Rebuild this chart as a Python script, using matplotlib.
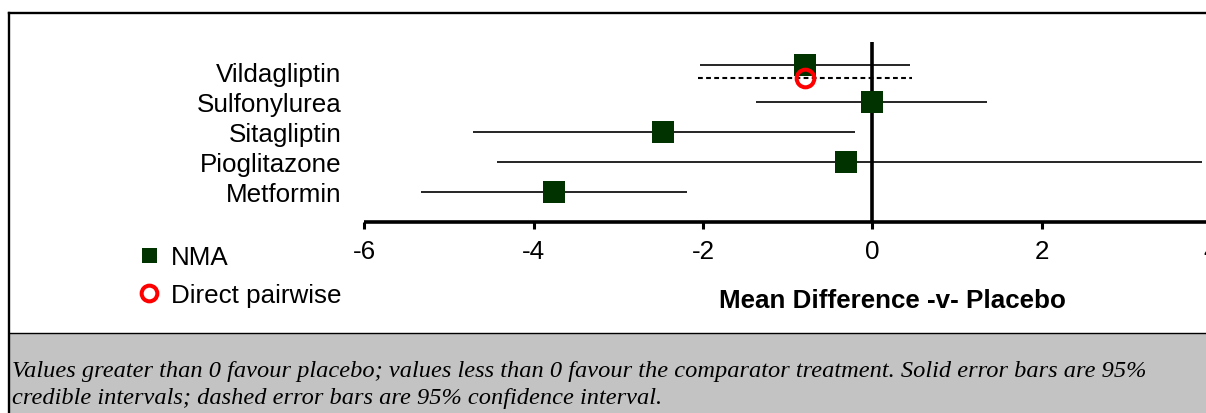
import matplotlib
matplotlib.use("Agg")
import matplotlib.pyplot as plt
from matplotlib.lines import Line2D
from matplotlib.patches import Rectangle

plt.rcParams['axes.unicode_minus'] = False
plt.rcParams['font.family'] = ['Liberation Sans', 'DejaVu Sans']

# ---- data ----
treatments = ["Vildagliptin", "Sulfonylurea", "Sitagliptin", "Pioglitazone", "Metformin"]
nma_mean = [-0.79, 0.00, -2.47, -0.31, -3.76]
nma_lower = [-2.04, -1.37, -4.72, -4.43, -5.33]
nma_upper = [0.45, 1.355, -0.21, 3.89, -2.19]

direct_treatments = ["Vildagliptin"]
direct_mean = [-0.80]
direct_lower = [-2.06]
direct_upper = [0.47]

xticks = [-6, -4, -2, 0, 2, 4]
xlabel = "Mean Difference -v- Placebo"
legend_labels = ["NMA", "Direct pairwise"]
caption_lines = [
    "Values greater than 0 favour placebo; values less than 0 favour the comparator treatment. "
    "Solid error bars are 95%",
    "credible intervals; dashed error bars are 95% confidence interval.",
]

# ---- figure ----
W, H = 1206, 414
fig = plt.figure(figsize=(W / 100, H / 100), dpi=100)

def fx(px):
    return px / W

def fy(py):
    return 1 - py / H

FS = 18.7

x0_px, ppu = 364.3, 84.67
xmax = 4.2
ax_left = fx(x0_px)
ax_width = (xmax + 6) * ppu / W
ax_bottom = fy(222.7)
ax_height = 180 / H
ax = fig.add_axes([ax_left, ax_bottom, ax_width, ax_height])
ax.set_xlim(-6, xmax)
ax.set_ylim(0, 6)

n = len(treatments)
ypos = {t: n - i for i, t in enumerate(treatments)}
has_direct = set(direct_treatments)
off = 0.21

green = "#003300"
red = "#ff0000"

for t, m, lo, hi in zip(treatments, nma_mean, nma_lower, nma_upper):
    y = ypos[t] + (off if t in has_direct else 0)
    ax.plot([lo, hi], [y, y], color="black", lw=1.2, zorder=2, solid_capstyle="butt")
    ax.plot([m], [y], marker="s", ms=15.8, color=green, mec=green, mew=0, ls="none", zorder=4)

for t, m, lo, hi in zip(direct_treatments, direct_mean, direct_lower, direct_upper):
    y = ypos[t] - off
    ax.plot([lo, hi], [y, y], color="black", lw=1.5, ls=(0, (2.3, 1.6)), zorder=2)
    ax.plot([m], [y], marker="o", ms=12.7, mfc="none", mec=red, mew=2.9, ls="none", zorder=5)

ax.axvline(0, color="black", lw=2.6, zorder=3)

for s in ["top", "right", "left"]:
    ax.spines[s].set_visible(False)
ax.spines["bottom"].set_linewidth(2.6)
ax.spines["bottom"].set_capstyle("butt")

ax.set_xticks(xticks)
ax.set_xticklabels([str(v) for v in xticks])
ax.tick_params(axis="x", direction="out", length=5, width=2.2, pad=7.3, labelsize=FS)
ax.set_yticks([ypos[t] for t in treatments])
ax.set_yticklabels(treatments)
ax.tick_params(axis="y", length=0, pad=16.5, labelsize=FS)
ax.patch.set_visible(False)

ax.set_xlabel(xlabel, fontsize=FS, fontweight="bold", va="baseline")
lab_x = (892.5 - x0_px) / (ax_width * W)
lab_y = (222.7 - 308) / 180
ax.xaxis.set_label_coords(lab_x, lab_y)

# legend
handles = [
    Line2D([], [], marker="s", ms=10.8, color=green, mew=0, ls="none"),
    Line2D([], [], marker="o", ms=11.3, mfc="none", mec=red, mew=2.9, ls="none"),
]
leg = fig.legend(handles, legend_labels, loc="upper left",
                 bbox_to_anchor=(fx(136.5), fy(246)), frameon=False, fontsize=FS,
                 handlelength=1.0, handletextpad=0.33, labelspacing=0.55,
                 borderpad=0, borderaxespad=0)

# caption box
fig.patches.append(Rectangle((fx(9), 0), 1 - fx(9), fy(334), transform=fig.transFigure,
                             facecolor="#c3c3c3", edgecolor="none", zorder=0))
fig.add_artist(Line2D([fx(9), 1], [fy(334), fy(334)], color="black", lw=1.0,
                      transform=fig.transFigure))
for line, base in zip(caption_lines, [376.7, 404.0]):
    fig.text(fx(12), fy(base), line, fontsize=17.6, style="italic",
             family=["Liberation Serif", "DejaVu Serif"], va="baseline", ha="left")

# outer frame (top and left)
fig.add_artist(Line2D([fx(8.5), 1], [fy(14), fy(14)], color="black", lw=1.7,
                      transform=fig.transFigure))
fig.add_artist(Line2D([fx(8.5), fx(8.5)], [fy(14), 0], color="black", lw=1.7,
                      transform=fig.transFigure))

fig.savefig("out.png", dpi=100)
